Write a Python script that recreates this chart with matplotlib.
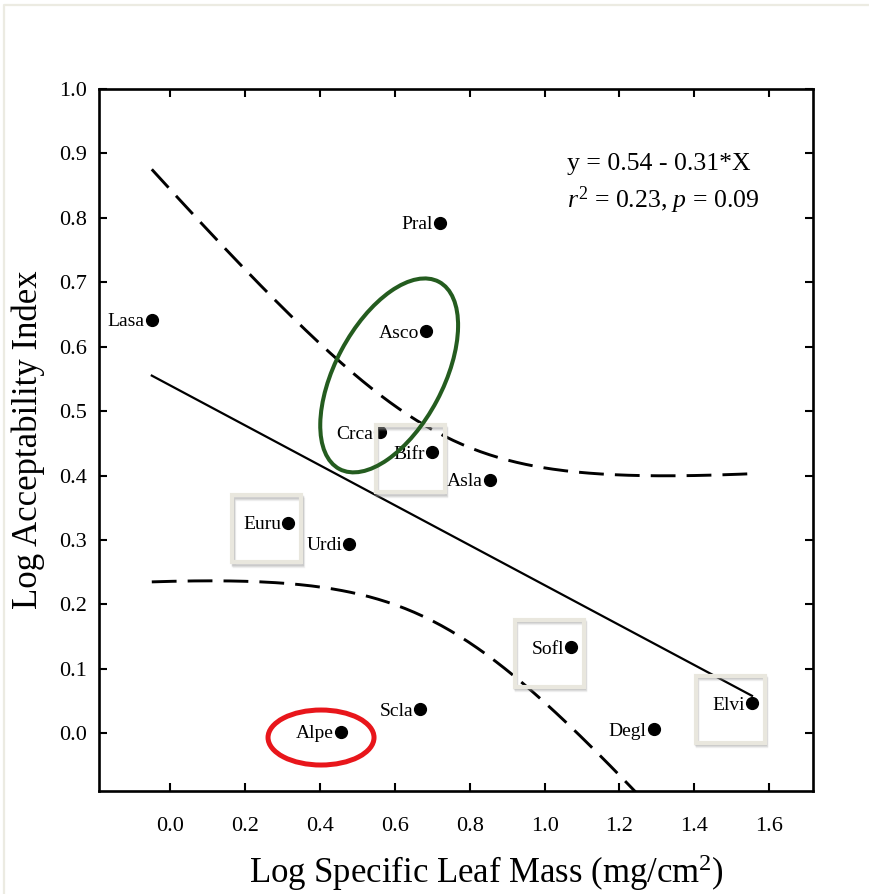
import numpy as np
import matplotlib
matplotlib.use("Agg")
import matplotlib.pyplot as plt
from matplotlib.patches import Ellipse, Rectangle
from matplotlib.transforms import ScaledTranslation
from matplotlib.lines import Line2D

# ---- data -------------------------------------------------------------
species = ["Lasa", "Pral", "Asco", "Crca", "Bifr", "Asla", "Euru",
           "Urdi", "Sofl", "Elvi", "Degl", "Scla", "Alpe"]
log_slm = [-0.049, 0.721, 0.683, 0.561, 0.699, 0.853, 0.316,
           0.479, 1.070, 1.554, 1.291, 0.668, 0.456]
log_acc = [0.642, 0.792, 0.624, 0.467, 0.436, 0.393, 0.327,
           0.294, 0.1335, 0.0466, 0.0062, 0.037, 0.0025]

fit_intercept = 0.54
fit_slope = -0.31
r_squared = 0.23
p_value = 0.09
t_crit = 2.201          # two-sided 95 %, 11 degrees of freedom

x_ticks = [0.0, 0.2, 0.4, 0.6, 0.8, 1.0, 1.2, 1.4, 1.6]
y_ticks = [0.0, 0.1, 0.2, 0.3, 0.4, 0.5, 0.6, 0.7, 0.8, 0.9, 1.0]

# highlighted groups
ellipse_group = ["Asco", "Crca"]
circled = ["Alpe"]
boxed = ["Euru", "Bifr", "Sofl", "Elvi"]

# ---- style ------------------------------------------------------------
plt.rcParams["font.family"] = ["Liberation Serif", "DejaVu Serif"]
plt.rcParams["mathtext.fontset"] = "custom"
plt.rcParams["mathtext.rm"] = "Liberation Serif"
plt.rcParams["mathtext.it"] = "Liberation Serif:italic"

fig = plt.figure(figsize=(8.69, 8.94), dpi=100)
ax = fig.add_axes([99 / 869, 103 / 894, 714 / 869, 702 / 894])

x = np.array(log_slm)
y = np.array(log_acc)

# regression line and 95 % confidence band of the mean
n = len(x)
xm = x.mean()
sxx = ((x - xm) ** 2).sum()
resid = y - (fit_intercept + fit_slope * x)
s = np.sqrt((resid ** 2).sum() / (n - 2))
xs = np.linspace(x.min(), x.max(), 200)
ys = fit_intercept + fit_slope * xs
half = t_crit * s * np.sqrt(1 / n + (xs - xm) ** 2 / sxx)

ax.plot(xs, ys, color="black", lw=1.6, zorder=3)
for band in (ys + half, ys - half):
    ax.plot(xs, band, color="black", lw=2.1, dashes=(8.5, 3.8), zorder=3)

ax.plot(x, y, "o", color="black", ms=8.5, zorder=4)
for name, xi, yi in zip(species, x, y):
    ax.annotate(name, (xi, yi), xytext=(-5, -4.6), textcoords="offset points",
                ha="right", va="baseline", fontsize=14, zorder=5)

ax.set_xlim(-0.19, 1.717)
ax.set_ylim(-0.0895, 1.0)
ax.set_xticks(x_ticks)
ax.set_yticks(y_ticks)
ax.set_xticklabels([f"{v:.1f}" for v in x_ticks])
ax.set_yticklabels([f"{v:.1f}" for v in y_ticks])
ax.tick_params(direction="in", length=5.5, width=1.5, top=True, right=True,
               labelsize=16)
ax.tick_params(axis="x", pad=19)
ax.tick_params(axis="y", pad=8.5)
for sp in ax.spines.values():
    sp.set_linewidth(1.9)

ax.set_xlabel("Log Specific Leaf Mass (mg/cm$^2$)", fontsize=25)
ax.set_ylabel("Log Acceptability Index", fontsize=25)
ax.xaxis.set_label_coords(0.543, -0.087)
ax.yaxis.set_label_coords(-0.076, 0.5)

ax.text(0.655, 0.885, f"y = {fit_intercept:.2f} - {abs(fit_slope):.2f}*X",
        transform=ax.transAxes, fontsize=18.5, va="baseline", ha="left")
ax.text(0.656, 0.831, f"$\\mathit{{r}}^2$ = {r_squared:.2f}, $\\mathit{{p}}$ = {p_value:.2f}",
        transform=ax.transAxes, fontsize=18.5, va="baseline", ha="left")


def at_data(cx, cy):
    """Transform placing inch-sized shapes centred on a data point."""
    return fig.dpi_scale_trans + ScaledTranslation(cx, cy, ax.transData)


idx = {name: i for i, name in enumerate(species)}

# green ellipse around the Asco / Crca pair
gx = np.mean([x[idx[k]] for k in ellipse_group]) - 0.037
gy = np.mean([y[idx[k]] for k in ellipse_group]) + 0.01
ax.add_patch(Ellipse((0, 0), 2.12, 1.08, angle=62, fill=False,
                     edgecolor="#245c1f", lw=2.9, zorder=6,
                     transform=at_data(gx, gy), clip_on=False))

# red ellipse around Alpe
for k in circled:
    ax.add_patch(Ellipse((0, 0), 1.06, 0.55, angle=0, fill=False,
                         edgecolor="#e8161b", lw=3.6, zorder=6,
                         transform=at_data(x[idx[k]] - 0.053, y[idx[k]] - 0.009),
                         clip_on=False))

# soft grey frames around single labels
w, h = 0.69, 0.67
for k in boxed:
    cx, cy = x[idx[k]] - 0.058, y[idx[k]] - 0.0095
    for off, a in ((0.035, 0.12), (0.025, 0.2), (0.015, 0.3)):
        ax.add_patch(Rectangle((-w / 2 + off * 0.4, -h / 2 - off), w, h,
                               fill=False, edgecolor="#9a9a9a", alpha=a,
                               lw=2.5, zorder=5.5, transform=at_data(cx, cy),
                               clip_on=False))
    ax.add_patch(Rectangle((-w / 2, -h / 2), w, h, fill=False,
                           edgecolor="#e9e7de", lw=3.0, zorder=5.6,
                           transform=at_data(cx, cy), clip_on=False))

# thin outer page frame
fig.add_artist(Line2D([4 / 869, 4 / 869, 1.0], [0.0, 1 - 5 / 894, 1 - 5 / 894],
                      transform=fig.transFigure, color="#ecebe2", lw=1.6))

fig.savefig("out.png", dpi=100)
